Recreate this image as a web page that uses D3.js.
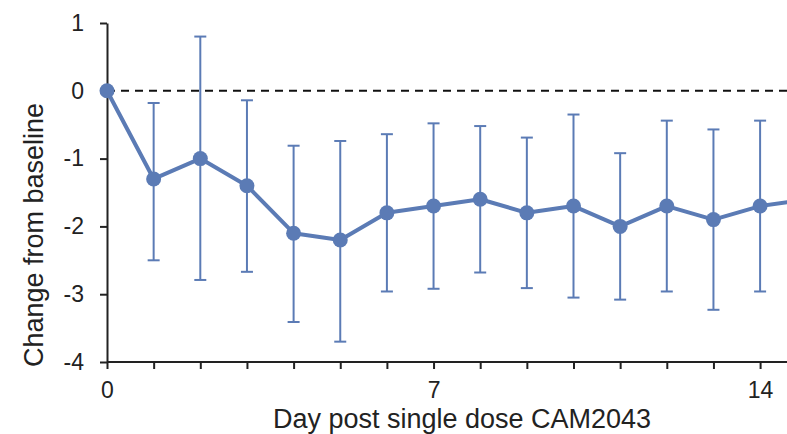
<!DOCTYPE html>
<html>
<head>
<meta charset="utf-8">
<script src="https://cdn.jsdelivr.net/npm/d3@7"></script>
<style>
    body { margin: 0; background: #ffffff; }
    svg { display: block; font-family: "Liberation Sans", Arial, sans-serif; }
    .axis path, .axis line { stroke: #222222; stroke-width: 2; }
    .axis text { fill: #222222; font-size: 23px; }
    .title { fill: #222222; font-size: 27px; }
</style>
</head>
<body>
<svg id="chart" width="787" height="434"></svg>
<script>
// days after dosing (day 15 is only partly visible at the right edge)
const days = [0, 1, 2, 3, 4, 5, 6, 7, 8, 9, 10, 11, 12, 13, 14, 15];
const means = [0, -1.3, -1.0, -1.4, -2.1, -2.2, -1.8, -1.7, -1.6, -1.8, -1.7, -2.0, -1.7, -1.9, -1.7, -1.6];
const upper = [0, -0.18, 0.8, -0.14, -0.81, -0.74, -0.64, -0.48, -0.52, -0.69, -0.35, -0.92, -0.44, -0.57, -0.44, null];
const lower = [0, -2.5, -2.79, -2.67, -3.41, -3.7, -2.96, -2.92, -2.68, -2.91, -3.05, -3.08, -2.96, -3.23, -2.96, null];
const xTickLabels = [0, 7, 14];
const yTicks = [-4, -3, -2, -1, 0, 1];

const attr = {
    left: 107,
    top: 23,
    bottom: 362,
    pxPerDay: 46.65,
    color: "#5b7bb5",
    cap: 6,
    r: 7.5
};

const translate = function(a, b) {
    return "translate(" + a + ", " + b + ")";
};

const svg = d3.select("#chart");

const x = d3.scaleLinear()
    .domain([0, 15])
    .range([attr.left, attr.left + 15 * attr.pxPerDay]);

const y = d3.scaleLinear()
    .domain([-4, 1])
    .range([attr.bottom, attr.top]);

const rows = days.map((d, i) => ({ day: d, mean: means[i], hi: upper[i], lo: lower[i] }));

// reference line at zero
svg.append("line")
    .attr("x1", x(0))
    .attr("x2", 787)
    .attr("y1", y(0))
    .attr("y2", y(0))
    .attr("stroke", "#111111")
    .attr("stroke-width", 2)
    .attr("stroke-dasharray", "8,6");

// axes
const xAxis = d3.axisBottom(x)
    .tickValues(d3.range(0, 16))
    .tickSize(7)
    .tickSizeOuter(0)
    .tickFormat(d => (xTickLabels.includes(d) ? d : ""));

const gx = svg.append("g")
    .attr("class", "axis")
    .attr("transform", translate(0, attr.bottom))
    .call(xAxis);
gx.select(".domain").attr("d", "M" + x(0) + ",0H787");
gx.selectAll("text").attr("dy", 0).attr("y", 36);

const yAxis = d3.axisLeft(y)
    .tickValues(yTicks)
    .tickSize(7)
    .tickSizeOuter(0)
    .tickFormat(d3.format("d"));

const gy = svg.append("g")
    .attr("class", "axis")
    .attr("transform", translate(attr.left, 0))
    .call(yAxis);
gy.selectAll("text").attr("x", -23).text(d => (d < 0 ? "-" + Math.abs(d) : d));

// error bars
const bars = svg.append("g")
    .selectAll("g")
    .data(rows.filter(d => d.hi !== null && d.day > 0))
    .enter()
    .append("g")
    .attr("stroke", attr.color)
    .attr("stroke-width", 2);

bars.append("line")
    .attr("x1", d => x(d.day))
    .attr("x2", d => x(d.day))
    .attr("y1", d => y(d.hi))
    .attr("y2", d => y(d.lo));

bars.append("line")
    .attr("x1", d => x(d.day) - attr.cap)
    .attr("x2", d => x(d.day) + attr.cap)
    .attr("y1", d => y(d.hi))
    .attr("y2", d => y(d.hi));

bars.append("line")
    .attr("x1", d => x(d.day) - attr.cap)
    .attr("x2", d => x(d.day) + attr.cap)
    .attr("y1", d => y(d.lo))
    .attr("y2", d => y(d.lo));

// mean line and markers
const line = d3.line()
    .x(d => x(d.day))
    .y(d => y(d.mean));

svg.append("path")
    .datum(rows)
    .attr("d", line)
    .attr("fill", "none")
    .attr("stroke", attr.color)
    .attr("stroke-width", 4)
    .attr("stroke-linejoin", "round");

svg.append("g")
    .selectAll("circle")
    .data(rows)
    .enter()
    .append("circle")
    .attr("cx", d => x(d.day))
    .attr("cy", d => y(d.mean))
    .attr("r", attr.r)
    .attr("fill", attr.color);

// titles
svg.append("text")
    .attr("class", "title")
    .attr("text-anchor", "middle")
    .attr("x", 462)
    .attr("y", 428)
    .text("Day post single dose CAM2043");

svg.append("text")
    .attr("class", "title")
    .attr("text-anchor", "middle")
    .attr("transform", translate(43, 235) + " rotate(-90)")
    .text("Change from baseline");
</script>
</body>
</html>
